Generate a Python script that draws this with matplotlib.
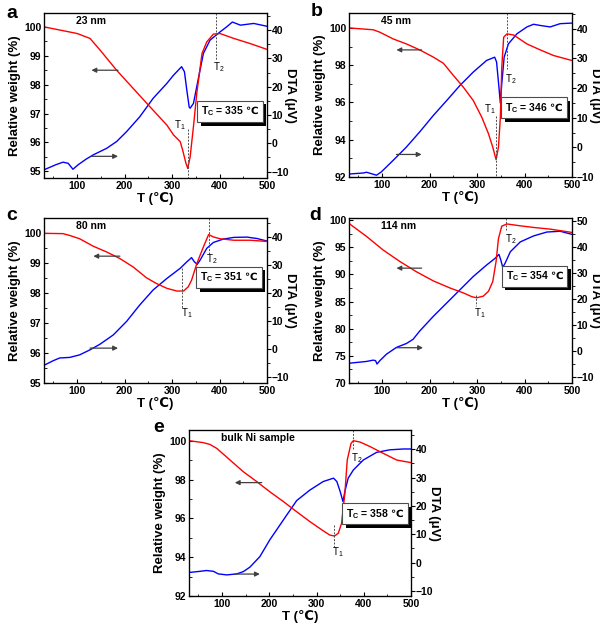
import numpy as np
import matplotlib
matplotlib.use("Agg")
import matplotlib.pyplot as plt
import matplotlib.patheffects as pe
from matplotlib.ticker import MultipleLocator

plt.rcParams['font.family'] = ['Liberation Sans', 'DejaVu Sans']
plt.rcParams['font.weight'] = 'bold'
plt.rcParams['mathtext.fontset'] = 'custom'
plt.rcParams['mathtext.rm'] = 'Liberation Sans'
plt.rcParams['mathtext.bf'] = 'Liberation Sans:bold'
plt.rcParams['mathtext.sf'] = 'DejaVu Sans:bold'
plt.rcParams['mathtext.default'] = 'regular'

# ---- data ----
# panel a, 23 nm
a_w_T = [30, 100, 127, 148, 183, 218, 253, 289, 303, 317, 322, 329, 333, 338, 345, 352, 363, 373, 387, 401, 430, 465, 500]
a_w = [100.0, 99.77, 99.6, 99.2, 98.5, 97.87, 97.24, 96.6, 96.26, 96.03, 95.75, 95.29, 95.1, 95.5, 96.55, 97.7, 99.08, 99.48, 99.75, 99.77, 99.6, 99.42, 99.22]
a_d_T = [30, 55, 70, 81, 91, 102, 119, 134, 162, 183, 204, 232, 260, 289, 303, 320, 326, 331, 336, 338, 345, 356, 366, 380, 401, 415, 427, 444, 472, 500]
a_d = [-9.4, -7.6, -6.7, -7.1, -9.2, -7.6, -5.6, -4.1, -1.8, 0.6, 4.1, 9.4, 15.9, 21.2, 24.1, 27.1, 25.3, 18.8, 12.8, 12.4, 14.1, 23.5, 31.8, 36.5, 39.4, 41.2, 42.9, 41.8, 42.4, 41.4]

# panel b, 45 nm
b_w_T = [30, 81, 95, 123, 151, 179, 208, 229, 250, 271, 292, 310, 324, 333, 340, 345, 349, 352, 356, 363, 377, 405, 433, 461, 500]
b_w = [100.0, 99.9, 99.77, 99.41, 99.14, 98.82, 98.43, 98.1, 97.45, 96.82, 96.1, 95.2, 94.32, 93.6, 92.93, 93.6, 95.2, 97.9, 99.5, 99.68, 99.62, 99.14, 98.82, 98.52, 98.25]
b_d_T = [30, 60, 67, 88, 98, 123, 151, 179, 208, 236, 264, 292, 320, 337, 341, 346, 349, 352, 357, 366, 384, 405, 419, 433, 454, 475, 500]
b_d = [-9.0, -8.65, -8.4, -9.4, -8.3, -4.4, 0.1, 5.2, 10.8, 15.8, 20.9, 25.4, 29.3, 30.4, 28.8, 20.3, 14.9, 21.5, 30.4, 34.9, 38.3, 40.6, 41.5, 41.1, 40.6, 41.7, 41.9]

# panel c, 80 nm
c_w_T = [30, 70, 84, 105, 134, 162, 190, 218, 246, 267, 289, 310, 324, 334, 341, 352, 366, 377, 387, 401, 430, 465, 500]
c_w = [99.98, 99.97, 99.91, 99.8, 99.55, 99.36, 99.14, 98.86, 98.5, 98.31, 98.15, 98.06, 98.06, 98.2, 98.42, 98.97, 99.53, 99.94, 99.86, 99.8, 99.75, 99.75, 99.71]
c_d_T = [30, 49, 63, 84, 105, 127, 148, 176, 204, 232, 260, 289, 317, 331, 341, 347, 353, 359, 373, 387, 408, 430, 458, 479, 500]
c_d = [-5.7, -4.1, -3.1, -2.9, -2.0, -0.2, 1.8, 5.1, 9.9, 15.8, 21.1, 25.2, 28.8, 31.1, 32.6, 31.1, 30.2, 31.7, 35.9, 38.0, 39.2, 39.8, 39.9, 39.4, 38.5]

# panel d, 114 nm
d_w_T = [30, 67, 102, 137, 172, 208, 243, 271, 289, 299, 313, 324, 333, 340, 345, 352, 363, 391, 419, 454, 500]
d_w = [99.4, 97.0, 94.5, 92.4, 90.5, 88.8, 87.5, 86.6, 85.9, 85.7, 86.0, 86.9, 88.7, 92.4, 96.6, 98.9, 99.3, 98.96, 98.66, 98.35, 97.74]
d_d_T = [30, 67, 81, 86, 89, 95, 109, 130, 151, 165, 179, 208, 236, 264, 292, 320, 338, 346, 350, 354, 359, 370, 391, 419, 447, 475, 500]
d_d = [-4.6, -3.9, -3.4, -3.6, -4.9, -3.6, -1.1, 1.5, 3.0, 4.6, 7.8, 13.5, 18.6, 23.7, 28.8, 33.2, 35.8, 37.3, 35.1, 32.3, 33.9, 38.3, 42.1, 44.4, 45.9, 46.2, 45.0]

# panel e, bulk Ni
e_w_T = [30, 60, 74, 89, 117, 145, 173, 201, 230, 258, 286, 314, 328, 338, 346, 353, 360, 365, 373, 378, 392, 413, 441, 470, 500]
e_w = [100.0, 99.9, 99.81, 99.6, 99.0, 98.4, 97.9, 97.37, 96.86, 96.34, 95.83, 95.36, 95.14, 95.09, 95.23, 95.74, 97.29, 99.0, 99.86, 100.0, 99.93, 99.7, 99.35, 99.0, 98.87]
e_d_T = [30, 53, 67, 82, 92, 110, 131, 145, 159, 180, 201, 230, 258, 286, 314, 336, 343, 350, 356, 360, 367, 378, 399, 427, 455, 484, 500]
e_d = [-3.5, -3.1, -2.8, -3.1, -4.0, -4.35, -4.0, -3.2, -1.6, 2.1, 8.0, 15.1, 21.9, 25.6, 28.6, 29.8, 28.6, 25.1, 21.5, 25.1, 29.8, 32.7, 36.2, 38.9, 39.8, 40.1, 40.1]

panels = [
    # letter, sample label, Tc, (w_T, w, d_T, d), weight ylim, weight ticks, dta ylim
    ('a', '23 nm', 335, (a_w_T, a_w, a_d_T, a_d), (94.77, 100.48), (1, 0.5), (-12.3, 46.1)),
    ('b', '45 nm', 346, (b_w_T, b_w, b_d_T, b_d), (92, 100.8), (2, 1), (-10, 45.3)),
    ('c', '80 nm', 351, (c_w_T, c_w, c_d_T, c_d), (95, 100.49), (1, 0.5), (-12, 46.7)),
    ('d', '114 nm', 354, (d_w_T, d_w, d_d_T, d_d), (70, 100.4), (5, 2.5), (-12.2, 51.3)),
    ('e', 'bulk Ni sample', 358, (e_w_T, e_w, e_d_T, e_d), (92, 100.55), (2, 1), (-11.8, 46.8)),
]

# annotation spots (T, weight): T1 line, T1 label, T2 line, T2 label, arrows, Tc box
marks = {
    'a': dict(t1=(333, 96.45, 94.77), t1l=(317, 96.61), t2=(393, 98.85), t2l=(399, 98.62),
              al=(186, 130, 98.5), ar=(130, 186, 95.52), box=(422, 97.07)),
    'b': dict(t1=(340, 95.3, 92), t1l=(327, 95.66), t2=(364, 97.8), t2l=(371, 97.27),
              al=(183, 130, 98.82), ar=(130, 183, 93.21), box=(420, 95.71)),
    'c': dict(t1=(320, 98.81, 97.48), t1l=(331, 97.32), t2=(377, 99.3), t2l=(384, 99.12),
              al=(190, 134, 99.22), ar=(127, 186, 96.16), box=(420, 98.51)),
    'd': dict(t1=(298, 86.3, 84.1), t1l=(306, 82.9), t2=(361, 98.2), t2l=(370, 96.6),
              al=(183, 130, 91.16), ar=(130, 186, 76.5), box=(421, 89.7)),
    'e': dict(t1=(336, 95.66, 94.54), t1l=(345, 94.28), t2=(377, 99.52), t2l=(385, 99.09),
              al=(184, 127, 97.84), ar=(127, 180, 93.13), box=(424, 96.24)),
}

# axes boxes in pixels: left, right, top, bottom
boxes = {'a': (44, 267, 13, 178), 'b': (349, 572, 13, 177), 'c': (44, 267, 218, 383),
         'd': (349, 572, 218, 383), 'e': (189, 411, 430, 596)}
letter_pos = {'a': (6, 14), 'b': (311, 12), 'c': (6, 215), 'd': (309, 215), 'e': (153, 428)}

W, H = 600, 626
fig = plt.figure(figsize=(W / 100, H / 100), dpi=100)

for letter, name, tc, (wT, w, dT, d), wlim, wtick, dlim in panels:
    l, r, t, b = boxes[letter]
    ax = fig.add_axes([l / W, 1 - b / H, (r - l) / W, (b - t) / H])
    ax2 = ax.twinx()
    ax.plot(wT, w, color='#ff0000', lw=1.0)
    ax2.plot(dT, d, color='#0000ff', lw=1.0)
    ax.set_zorder(ax2.get_zorder() + 1)
    ax.patch.set_visible(False)

    ax.set_xlim(30, 500)
    ax.set_ylim(*wlim)
    ax2.set_ylim(*dlim)
    ax.xaxis.set_major_locator(MultipleLocator(100))
    ax.xaxis.set_minor_locator(MultipleLocator(50))
    ax.yaxis.set_major_locator(MultipleLocator(wtick[0]))
    ax.yaxis.set_minor_locator(MultipleLocator(wtick[1]))
    ax2.yaxis.set_major_locator(MultipleLocator(10))
    ax2.yaxis.set_minor_locator(MultipleLocator(5))
    ax.tick_params(which='both', direction='in', top=False, right=False, labelsize=7.5, pad=2)
    ax.tick_params(which='major', length=3, width=0.8)
    ax.tick_params(which='minor', length=1.8, width=0.6)
    ax2.tick_params(which='both', direction='out', labelsize=7.5, pad=0.5)
    ax2.tick_params(which='major', length=3, width=0.8)
    ax2.tick_params(which='minor', length=1.8, width=0.6)
    for lab in ax.get_xticklabels() + ax.get_yticklabels() + ax2.get_yticklabels():
        lab.set_fontweight('bold')
    for s in ax2.spines.values():
        s.set_linewidth(0.9)

    ax.set_xlabel('T (℃)', fontsize=9.5, fontweight='bold', labelpad=1)
    ax.set_ylabel('Relative weight (%)', fontsize=9.5, fontweight='bold', labelpad=2)
    ax2.set_ylabel('DTA (μV)', fontsize=9.5, fontweight='bold', rotation=270, va='center')
    ax2.yaxis.set_label_coords(1.105, 0.5)

    ax.text(0.145, 0.95, name, transform=ax.transAxes, fontsize=7.5, fontweight='bold',
            va='center', ha='left')

    m = marks[letter]
    x1, y1a, y1b = m['t1']
    ax.plot([x1, x1], [y1a, y1b], ls=(0, (2, 1.5)), color='0.3', lw=0.7)
    ax.text(*m['t1l'], 'T$_1$', fontsize=7, fontweight='normal', ha='center', va='center')
    x2, y2 = m['t2']
    ax.plot([x2, x2], [wlim[1], y2], ls=(0, (2, 1.5)), color='0.3', lw=0.7)
    ax.text(*m['t2l'], 'T$_2$', fontsize=7, fontweight='normal', ha='center', va='center')

    for key in ('al', 'ar'):
        xs, xe, yy = m[key]
        ax.annotate('', xy=(xe, yy), xytext=(xs, yy),
                    arrowprops=dict(arrowstyle='-|>', color='0.25', lw=0.9,
                                    mutation_scale=7, shrinkA=0, shrinkB=0))

    txt = ax.text(*m['box'], 'T$_\\mathbf{C}$ = %d $\\mathsf{℃}$' % tc, fontsize=7.5,
                  fontweight='bold', ha='center', va='center',
                  bbox=dict(boxstyle='square,pad=0.35', fc='white', ec='0.3', lw=0.8))
    txt.get_bbox_patch().set_path_effects([
        pe.SimplePatchShadow(offset=(2.5, -2.5), shadow_rgbFace='black', alpha=1.0),
        pe.Normal()])

    lx, ly = letter_pos[letter]
    fig.text(lx / W, 1 - ly / H, letter, fontsize=14, fontweight='bold', va='center', ha='left')

fig.savefig('out.png', dpi=100)
